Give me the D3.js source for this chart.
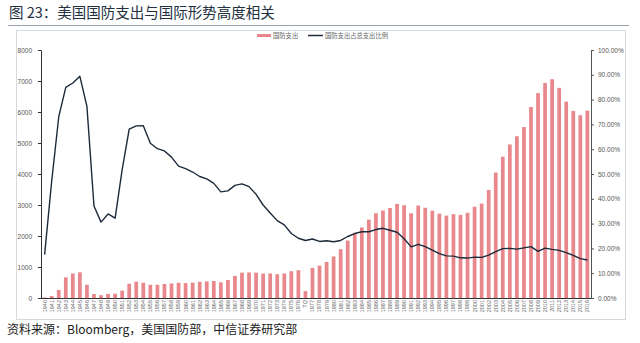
<!DOCTYPE html>
<html>
<head>
<meta charset="utf-8">
<script src="https://cdn.jsdelivr.net/npm/d3@7/dist/d3.min.js"></script>
<style>
  html, body { margin: 0; padding: 0; background: #fff; }
  svg { display: block; }
  text { font-family: "Noto Sans CJK SC", "Noto Sans", sans-serif; }
</style>
</head>
<body>
<svg id="chart" width="640" height="343"></svg>
<script>
// Fiscal years (TQ = transition quarter of 1976)
const years = ["1940","1941","1942","1943","1944","1945","1946","1947","1948","1949",
  "1950","1951","1952","1953","1954","1955","1956","1957","1958","1959",
  "1960","1961","1962","1963","1964","1965","1966","1967","1968","1969",
  "1970","1971","1972","1973","1974","1975","1976","TQ","1977","1978","1979",
  "1980","1981","1982","1983","1984","1985","1986","1987","1988","1989",
  "1990","1991","1992","1993","1994","1995","1996","1997","1998","1999",
  "2000","2001","2002","2003","2004","2005","2006","2007","2008","2009",
  "2010","2011","2012","2013","2014","2015","2016"];

// 国防支出 (亿美元)
const defenseSpending = [17,64,257,667,791,830,427,128,91,132,
  137,236,461,528,493,427,425,454,468,490,
  481,496,523,534,548,506,581,714,819,825,
  817,789,792,767,793,865,896,223,972,1045,1163,
  1340,1575,1853,2099,2274,2527,2734,2820,2904,3036,
  2993,2733,2983,2911,2816,2721,2657,2705,2682,2748,
  2944,3047,3485,4047,4558,4953,5218,5513,6161,6610,
  6935,7056,6779,6334,6035,5897,6045];

// 国防支出占总支出比例 (%)
const defenseShare = [17.5,47.1,73.0,84.9,86.7,89.4,77.3,37.1,30.6,33.9,
  32.2,51.8,68.1,69.4,69.5,62.4,60.2,59.3,56.8,53.2,
  52.2,50.8,49.0,48.0,46.2,42.8,43.2,45.4,46.0,44.9,
  41.8,37.5,34.3,31.2,29.5,26.0,24.1,23.2,23.8,22.8,23.1,
  22.7,23.2,24.8,26.0,26.7,26.7,27.6,28.1,27.3,26.5,
  23.9,20.6,21.6,20.7,19.3,17.9,17.0,16.9,16.2,16.1,
  16.5,16.4,17.3,18.7,19.9,20.0,19.7,20.2,20.7,18.8,
  20.1,19.6,19.2,18.3,17.2,15.9,15.3];

const leftTicks = [0,1000,2000,3000,4000,5000,6000,7000,8000];
const rightTicks = [0,10,20,30,40,50,60,70,80,90,100];
const seriesNames = ["国防支出", "国防支出占总支出比例"];

const titleText = "图 23：美国国防支出与国际形势高度相关";
const sourceText = "资料来源：Bloomberg，美国国防部，中信证券研究部";

const barColor = "#e9888c";
const lineColor = "#1c2a3a";

const svg = d3.select("#chart");

// Title and rule
svg.append("text")
  .attr("x", 9).attr("y", 18)
  .attr("font-size", 14.5)
  .attr("fill", "#22303f")
  .text(titleText);
svg.append("line")
  .attr("x1", 8).attr("x2", 629).attr("y1", 25.5).attr("y2", 25.5)
  .attr("stroke", "#9aa3ad").attr("stroke-width", 1);

// Chart frame
svg.append("rect")
  .attr("x", 16.5).attr("y", 30.5).attr("width", 609).attr("height", 289)
  .attr("fill", "none").attr("stroke", "#d6d9dd").attr("stroke-width", 1);

// Source note
svg.append("text")
  .attr("x", 7).attr("y", 334)
  .attr("font-size", 12)
  .attr("fill", "#1a1a1a")
  .text(sourceText);

const plot = { left: 41, right: 591, top: 50, bottom: 298 };

const x = d3.scaleBand().domain(years)
  .range([plot.left, plot.right]).paddingInner(0.47).paddingOuter(0.25);
const yL = d3.scaleLinear().domain([0, 8000]).range([plot.bottom, plot.top]);
const yR = d3.scaleLinear().domain([0, 100]).range([plot.bottom, plot.top]);

// Bars
svg.append("g").selectAll("rect")
  .data(years.map((yr, i) => ({ yr, v: defenseSpending[i] })))
  .join("rect")
  .attr("x", d => x(d.yr))
  .attr("width", x.bandwidth())
  .attr("y", d => yL(d.v))
  .attr("height", d => yL(0) - yL(d.v))
  .attr("fill", barColor);

// Share line
const line = d3.line()
  .x((d, i) => x(years[i]) + x.bandwidth() / 2)
  .y(d => yR(d));
svg.append("path")
  .datum(defenseShare)
  .attr("d", line)
  .attr("fill", "none")
  .attr("stroke", lineColor)
  .attr("stroke-width", 1.4)
  .attr("stroke-linejoin", "round");

// Left axis
const gL = svg.append("g")
  .attr("transform", `translate(${plot.left},0)`)
  .call(d3.axisLeft(yL).tickValues(leftTicks).tickSize(3).tickPadding(6).tickFormat(d3.format("d")));
gL.select(".domain").attr("stroke", "#333");
gL.selectAll(".tick line").attr("stroke", "#333");
gL.selectAll(".tick text").attr("font-size", 6.5).attr("fill", "#555")
  .style("font-family", "Liberation Sans, Arial, sans-serif");

// Right axis
const gR = svg.append("g")
  .attr("transform", `translate(${plot.right},0)`)
  .call(d3.axisRight(yR).tickValues(rightTicks).tickSize(3).tickPadding(4)
    .tickFormat(d => d.toFixed(2) + "%"));
gR.select(".domain").attr("stroke", "#555");
gR.selectAll(".tick line").attr("stroke", "#555");
gR.selectAll(".tick text").attr("font-size", 6.5).attr("fill", "#555")
  .style("font-family", "Liberation Sans, Arial, sans-serif");

// Bottom axis
const gB = svg.append("g")
  .attr("transform", `translate(0,${plot.bottom})`)
  .call(d3.axisBottom(x).tickSize(0).tickPadding(0));
gB.select(".domain").attr("stroke", "#333").attr("d", `M${plot.left},0.5H${plot.right}`);
gB.selectAll(".tick text")
  .attr("font-size", 5.5).attr("fill", "#666")
  .style("font-family", "Liberation Sans, Arial, sans-serif")
  .attr("text-anchor", "end")
  .attr("dy", "0.35em")
  .attr("transform", "translate(0,2) rotate(-90)");

// Legend
const legend = svg.append("g").attr("font-size", 6.3).attr("fill", "#666");
legend.append("line").attr("x1", 257).attr("x2", 271).attr("y1", 35.5).attr("y2", 35.5)
  .attr("stroke", barColor).attr("stroke-width", 3);
legend.append("text").attr("x", 273).attr("y", 37.8).text(seriesNames[0]);
legend.append("line").attr("x1", 308).attr("x2", 323).attr("y1", 35.5).attr("y2", 35.5)
  .attr("stroke", lineColor).attr("stroke-width", 1.5);
legend.append("text").attr("x", 325).attr("y", 37.8).text(seriesNames[1]);
</script>
</body>
</html>
